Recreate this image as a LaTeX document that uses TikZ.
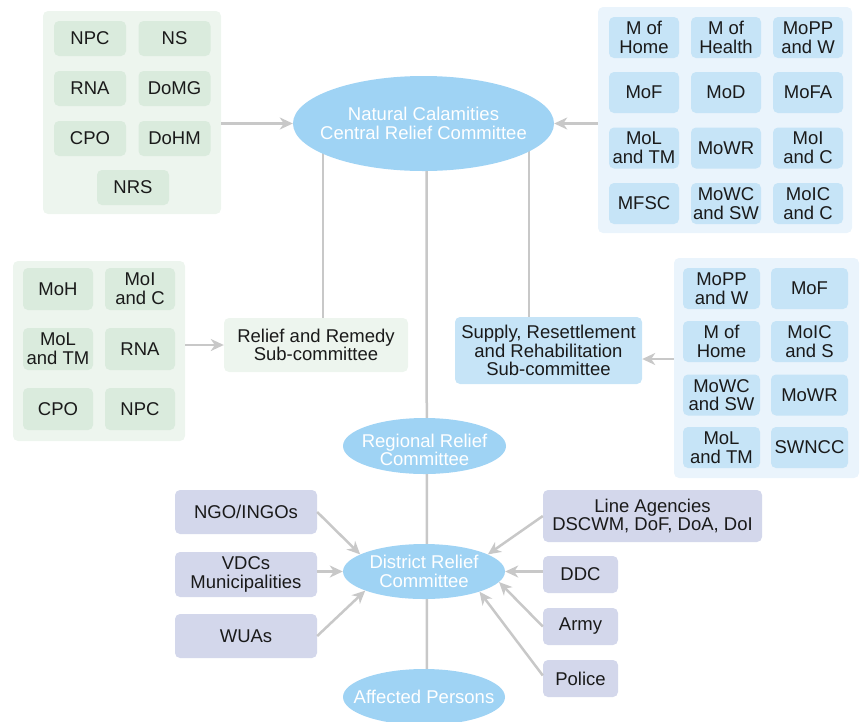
\documentclass[tikz,border=0pt]{standalone}
\usepackage{fontspec}
\setmainfont{Liberation Sans}
\usetikzlibrary{shapes.geometric,arrows.meta,backgrounds,calc}
\definecolor{pg}{HTML}{EDF5EE}
\definecolor{gb}{HTML}{DAEBDD}
\definecolor{pb}{HTML}{EAF4FC}
\definecolor{bb}{HTML}{C6E4F7}
\definecolor{el}{HTML}{9FD3F4}
\definecolor{lv}{HTML}{D3D7EB}
\definecolor{lc}{HTML}{C8C8C8}
\definecolor{txt}{HTML}{1A1A1A}
\begin{document}
\begin{tikzpicture}[x=1pt,y=-1pt,
  every node/.style={font=\fontsize{18.5}{18.7}\selectfont, align=center, text=txt, inner sep=0pt},
  sz/.style 2 args={minimum width=#1, minimum height=#2},
  gpanel/.style={fill=pg, rounded corners=5pt},
  bpanel/.style={fill=pb, rounded corners=5pt},
  gbox/.style={fill=gb, rounded corners=5pt, sz={72}{35}},
  gboxb/.style={fill=gb, rounded corners=5pt, sz={70}{42}},
  bbox/.style={fill=bb, rounded corners=5pt, sz={70}{41}},
  bboxb/.style={fill=bb, rounded corners=5pt, sz={77}{41}},
  lbox/.style={fill=lv, rounded corners=5pt},
  ell/.style={ellipse, fill=el, label={[text=white]center:{#1}}},
  ellr/.style={ellipse, fill=el, label={[text=white,yshift=-4pt]center:{#1}}},
  ln/.style={draw=lc, line width=2.5pt},
  arr/.style={draw=lc, line width=2.5pt, -{Stealth[length=13pt,width=12pt,inset=4pt]}}
]
\useasboundingbox (0,0) rectangle (864,721);
\clip (0,0) rectangle (864,721);

% ---- top-left panel
\node[gpanel, sz={178}{203}] (tl) at (132,112.5) {};
\node[gbox] (tl1) at (90,38.5) {NPC};
\node[gbox] (tl2) at (174.5,38.5) {NS};
\node[gbox] (tl3) at (90,88.5) {RNA};
\node[gbox] (tl4) at (174.5,88.5) {DoMG};
\node[gbox] (tl5) at (90,138.5) {CPO};
\node[gbox] (tl6) at (174.5,138.5) {DoHM};
\node[gbox] (tl7) at (133,187.5) {NRS};

% ---- top-right panel
\node[bpanel, sz={254}{226}] (tr) at (725,120) {};
\node[bbox] (tr1) at (644,37.5) {M of\\Home};
\node[bbox] (tr2) at (726,37.5) {M of\\Health};
\node[bbox] (tr3) at (808,37.5) {MoPP\\and W};
\node[bbox] (tr4) at (644,92.5) {MoF};
\node[bbox] (tr5) at (726,92.5) {MoD};
\node[bbox] (tr6) at (808,92.5) {MoFA};
\node[bbox] (tr7) at (644,148) {MoL\\and TM};
\node[bbox] (tr8) at (726,148) {MoWR};
\node[bbox] (tr9) at (808,148) {MoI\\and C};
\node[bbox] (tr10) at (644,203.5) {MFSC};
\node[bbox] (tr11) at (726,203.5) {MoWC\\and SW};
\node[bbox] (tr12) at (808,203.5) {MoIC\\and C};

% ---- middle-left panel
\node[gpanel, sz={172}{180}] (ml) at (99,351) {};
\node[gboxb] (ml1) at (58,289) {MoH};
\node[gboxb] (ml2) at (140,289) {MoI\\and C};
\node[gboxb] (ml3) at (58,349) {MoL\\and TM};
\node[gboxb] (ml4) at (140,349) {RNA};
\node[gboxb] (ml5) at (58,409) {CPO};
\node[gboxb] (ml6) at (140,409) {NPC};

% ---- middle-right panel
\node[bpanel, sz={185}{220}] (mr) at (766.5,368) {};
\node[bboxb] (mr1) at (721.5,288.5) {MoPP\\and W};
\node[bboxb] (mr2) at (809.5,288.5) {MoF};
\node[bboxb] (mr3) at (721.5,341.5) {M of\\Home};
\node[bboxb] (mr4) at (809.5,341.5) {MoIC\\and S};
\node[bboxb] (mr5) at (721.5,395) {MoWC\\and SW};
\node[bboxb] (mr6) at (809.5,395) {MoWR};
\node[bboxb] (mr7) at (721.5,447.5) {MoL\\and TM};
\node[bboxb] (mr8) at (809.5,447.5) {SWNCC};

% ---- sub-committees
\node[gpanel, sz={184}{54}] (rr) at (316,345) {Relief and Remedy\\Sub-committee};
\node[fill=bb, rounded corners=5pt, sz={187}{67}] (sup) at (548.5,350.5) {Supply, Resettlement\\and Rehabilitation\\Sub-committee};

% ---- ellipses
\node[ell={Natural Calamities\\Central Relief Committee}, sz={261}{95}] (ncc) at (423.5,123.5) {};
\node[ellr={Regional Relief\\Committee}, sz={163}{56}] (reg) at (424.5,446) {};
\node[ell={District Relief\\Committee}, sz={162}{55}] (drc) at (424,571.5) {};
\node[ell={Affected Persons}, sz={162}{56}] (aff) at (424,697) {};

% ---- bottom boxes
\node[lbox, sz={142}{44}] (ngo) at (246,512) {NGO/INGOs};
\node[lbox, sz={142}{45}] (vdc) at (246,574.5) {VDCs\\Municipalities};
\node[lbox, sz={142}{44}] (wua) at (246,636) {WUAs};
\node[lbox, sz={219}{52}] (la) at (652.5,516) {Line Agencies\\DSCWM, DoF, DoA, DoI};
\node[lbox, sz={75}{37}] (ddc) at (580.5,574.5) {DDC};
\node[lbox, sz={75}{37}] (army) at (580.5,626.5) {Army};
\node[lbox, sz={75}{37}] (pol) at (580.5,678.5) {Police};

% ---- connectors
\begin{scope}[on background layer]
\draw[ln] ([xshift=7pt]rr.north) -- ([xshift=7pt]rr.north |- ncc.center);
\draw[ln] ([xshift=-19.5pt]sup.north) -- ([xshift=-19.5pt]sup.north |- ncc.center);
\draw[ln] ([xshift=3pt]ncc.center) -- ([xshift=3pt]aff.center);
\end{scope}

\draw[arr] (tl.east |- ncc.center) -- (ncc.west);
\draw[arr] (tr.west |- ncc.center) -- (ncc.east);
\draw[arr] (ml.east |- rr.center) -- (rr.west);
\draw[arr] ([yshift=9pt]mr.west) coordinate (mra) -- (mra -| sup.east);

\draw[arr] (ngo.east) -- (drc.165);
\draw[arr] (vdc.east |- drc.west) -- (drc.west);
\draw[arr] (wua.east) -- (drc.198);
\draw[arr] (la.west) -- (drc.15);
\draw[arr] (ddc.west |- drc.east) -- (drc.east);
\draw[arr] (army.west) -- (drc.-8);
\draw[arr] ([yshift=3pt]pol.west) -- (drc.-20);
\end{tikzpicture}
\end{document}
